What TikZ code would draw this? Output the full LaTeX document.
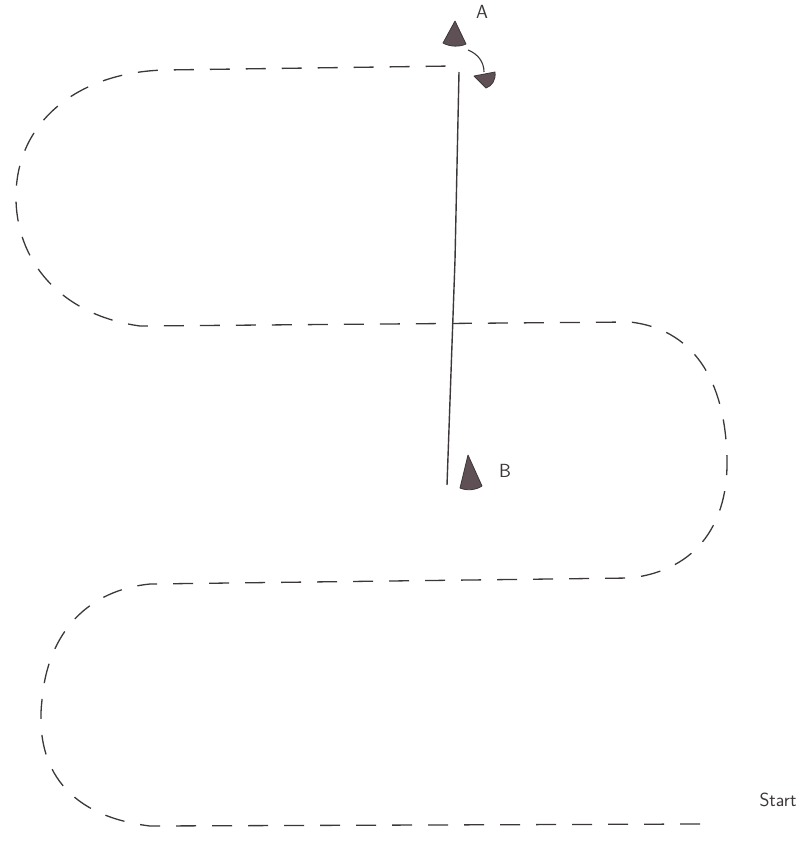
\documentclass[tikz,border=0pt]{standalone}
\usetikzlibrary{arrows.meta}
\definecolor{ink}{RGB}{60,55,58}
\definecolor{cone}{RGB}{95,80,85}
\begin{document}
\begin{tikzpicture}[x=1pt,y=-1pt,
  route/.style={draw=ink, line width=1.3pt, dash pattern=on 20pt off 16pt},
  solidline/.style={draw=ink, line width=1.4pt},
  conefill/.style={fill=cone, draw=ink, line width=0.8pt, line join=round},
  lbl/.style={font=\sffamily\fontsize{19}{22}\selectfont, text=ink, inner sep=0pt}]
\useasboundingbox (0,0) rectangle (806,854);
% dashed serpentine route
\coordinate (start) at (700,824);
\coordinate (end) at (452,66);
\path[route] (start) -- (150,826)
  .. controls (60,815) and (35,760) .. (42,700)
  .. controls (48,630) and (90,590) .. (150,584)
  -- (630,578)
  .. controls (700,570) and (728,520) .. (727,460)
  .. controls (726,390) and (700,330) .. (630,322)
  -- (140,326)
  .. controls (60,315) and (15,260) .. (16,195)
  .. controls (17,120) and (80,72) .. (165,70)
  -- (end);
% solid line
\coordinate (top) at (459,72);
\coordinate (bot) at (447,485);
\draw[solidline] (top) -- (455,260) -- (bot);
% cone A
\path[conefill] (455,21) -- (443,43) .. controls (450,47) and (460,47) .. (466,44) -- cycle;
\node[lbl] (A) at (482,12) {A};
% cone B
\path[conefill] (468,455) -- (460,488) .. controls (467,491) and (476,490) .. (482,486) -- cycle;
\node[lbl] (B) at (505,471) {B};
% knocked-over cone and arrow
\coordinate (fallen) at (484,80);
\path[conefill] (474,76) -- (495,72) .. controls (496,80) and (492,86) .. (486,88) -- cycle;
\coordinate (arrstart) at (468,50);
\draw[ink, line width=1.1pt] (arrstart) .. controls (478,54) and (484,62) .. (484,72);
% start label
\node[lbl] (startlbl) at (778,800) {Start};
\end{tikzpicture}
\end{document}
